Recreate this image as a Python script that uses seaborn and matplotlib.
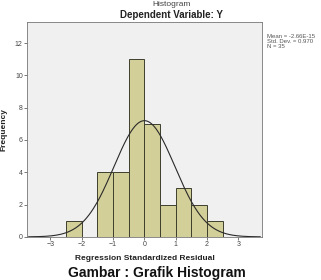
import numpy as np
import matplotlib
matplotlib.use("Agg")
import matplotlib.pyplot as plt
import seaborn as sns

# residual histogram (bin width 0.5)
bin_edges = [-2.5, -2.0, -1.5, -1.0, -0.5, 0.0, 0.5, 1.0, 1.5, 2.0, 2.5]
counts = [1, 0, 4, 4, 11, 7, 2, 3, 2, 1]
mean_val = -2.66e-15
std_val = 0.970
n_obs = 35
x_ticks = [-3, -2, -1, 0, 1, 2, 3]
y_ticks = [0, 2, 4, 6, 8, 10, 12]

sns.set_style("white")
plt.rcParams['font.family'] = ['Liberation Sans', 'DejaVu Sans']

fig = plt.figure(figsize=(3.21, 2.80), dpi=100)
ax = fig.add_axes([0.084, 0.154, 0.732, 0.767])
ax.set_facecolor("#f0f0f0")

centers = [(a + b) / 2 for a, b in zip(bin_edges[:-1], bin_edges[1:])]
sns.histplot(x=centers, weights=counts, bins=bin_edges, ax=ax,
             color="#d3cf98", edgecolor="#3e3e2e", linewidth=0.7, alpha=1)

# normal curve scaled to counts
xs = np.linspace(-3.7, 3.7, 300)
bw = bin_edges[1] - bin_edges[0]
ys = n_obs * bw / (std_val * np.sqrt(2 * np.pi)) * np.exp(-0.5 * ((xs - mean_val) / std_val) ** 2)
sns.lineplot(x=xs, y=ys, ax=ax, color="#2a2a2a", linewidth=0.8)

ax.set_xlim(-3.75, 3.75)
ax.set_ylim(0, 13.3)
ax.set_xticks(x_ticks)
ax.set_yticks(y_ticks)
ax.tick_params(axis='both', labelsize=5, length=2, width=0.5, pad=1,
               colors="#444444", direction='out')
ax.tick_params(axis='x', bottom=True)
ax.tick_params(axis='y', left=True)
for s in ax.spines.values():
    s.set_color("#777777")
    s.set_linewidth(0.6)

ax.set_xlabel("Regression Standardized Residual", fontsize=6, fontweight='bold',
              color="#222222", labelpad=5)
ax.set_ylabel("Frequency", fontsize=6, fontweight='bold', color="#222222", labelpad=5)

fig.text(0.535, 0.998, "Histogram", ha='center', va='top', fontsize=6, color="#444444")
fig.text(0.535, 0.948, "Dependent Variable: Y", ha='center', va='center',
         fontsize=7, fontweight='bold', color="#222222")
fig.text(0.832, 0.88, "Mean = -2.66E-15\nStd. Dev. = 0.970\nN = 35", ha='left', va='top',
         fontsize=4.3, color="#555555", linespacing=1.0)
fig.text(0.49, 0.012, "Gambar : Grafik Histogram", ha='center', va='baseline',
         fontsize=10, fontweight='bold', color="#111111")

fig.savefig("out.png", dpi=100)
